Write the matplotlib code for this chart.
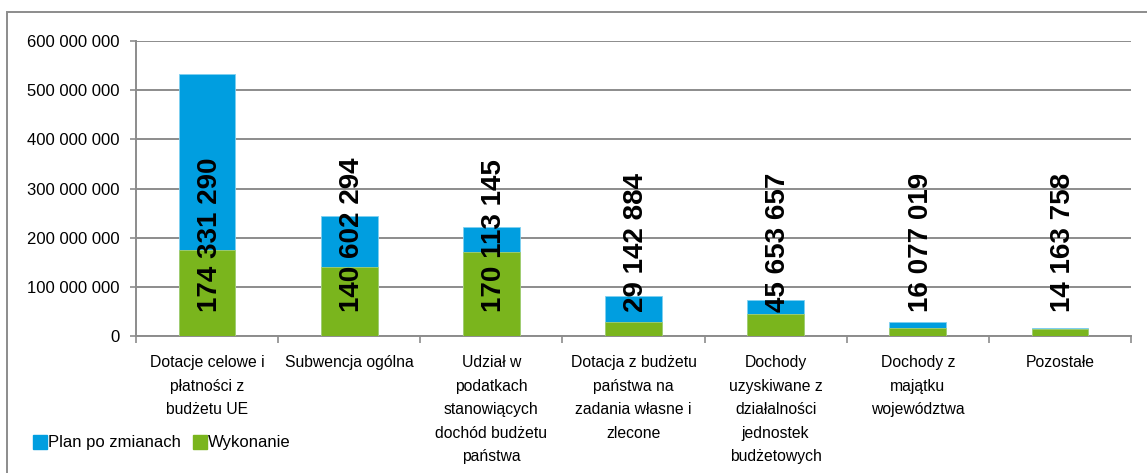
import matplotlib.pyplot as plt
import matplotlib.ticker as ticker
from matplotlib.patches import Rectangle
from matplotlib.lines import Line2D

categories = ["Dotacje celowe i\npłatności z\nbudżetu UE",
              "Subwencja ogólna",
              "Udział w\npodatkach\nstanowiących\ndochód budżetu\npaństwa",
              "Dotacja z budżetu\npaństwa na\nzadania własne i\nzlecone",
              "Dochody\nuzyskiwane z\ndziałalności\njednostek\nbudżetowych",
              "Dochody z\nmajątku\nwojewództwa",
              "Pozostałe"]
plan = [533000000, 245000000, 221000000, 81000000, 72500000, 28500000, 16300000]
wykonanie = [174331290, 140602294, 170113145, 29142884, 45653657, 16077019, 14163758]

blue = "#009EE0"
green = "#7AB51D"
grid_c = "#8C8C8C"

plt.rcParams['font.family'] = ['Liberation Sans', 'DejaVu Sans']

fig = plt.figure(figsize=(11.47, 4.73), dpi=100)
ax = fig.add_axes([136/1147, 1-336/473, (1131-136)/1147, (336-41)/473])

x = list(range(len(categories)))
# plan drawn first, wykonanie over it from zero
ax.bar(x, plan, width=0.4, color=blue, edgecolor="#7FD0F0", linewidth=0.6, zorder=2)
ax.bar(x, wykonanie, width=0.4, color=green, edgecolor="#A8D070", linewidth=0.6, zorder=3)

for xi, v in zip(x, wykonanie):
    lab = f"{v:,}".replace(",", " ")
    ax.annotate(lab, (xi, 0), xytext=(2, 17), textcoords="offset points",
                rotation=90, ha="center", va="bottom", fontsize=20,
                fontweight="bold", color="black", zorder=5)

ax.set_ylim(0, 600000000)
ax.set_xlim(-0.5, len(categories)-0.5)
ax.yaxis.set_major_locator(ticker.MultipleLocator(100000000))
ax.yaxis.set_major_formatter(ticker.FuncFormatter(lambda v, p: f"{int(v):,}".replace(",", " ")))
ax.grid(axis="y", color=grid_c, linewidth=1.4, zorder=0)
ax.set_axisbelow(True)

ax.set_xticks(x)
ax.set_xticklabels(categories, fontsize=11.3, va="top")
for t in ax.get_xticklabels():
    t.set_linespacing(1.7)
ax.set_xticks([i-0.5 for i in range(len(categories)+1)], minor=True)
ax.tick_params(axis="x", which="major", length=0, pad=14)
ax.tick_params(axis="x", which="minor", length=5, color=grid_c, width=1.2)
ax.tick_params(axis="y", labelsize=12, length=4, color=grid_c, width=1.2, pad=8)

for s in ["top", "right"]:
    ax.spines[s].set_visible(False)
for s in ["left", "bottom"]:
    ax.spines[s].set_color(grid_c)
    ax.spines[s].set_linewidth(1.4)

# chart area frame
fig.patches.append(Rectangle((7/1147, -0.1), 1.2, 1.1-12/473, transform=fig.transFigure,
                             fill=False, edgecolor="#8C8C8C", linewidth=1.4))

handles = [Line2D([], [], marker="s", linestyle="", markersize=10, color=blue),
           Line2D([], [], marker="s", linestyle="", markersize=10, color=green)]
fig.legend(handles, ["Plan po zmianach", "Wykonanie"], loc="center left",
           bbox_to_anchor=(25/1147, 1-443/473), ncol=2, frameon=False, fontsize=12,
           handletextpad=0.0, columnspacing=0.6, handlelength=1.0, borderaxespad=0)

plt.savefig("out.png", dpi=100)
